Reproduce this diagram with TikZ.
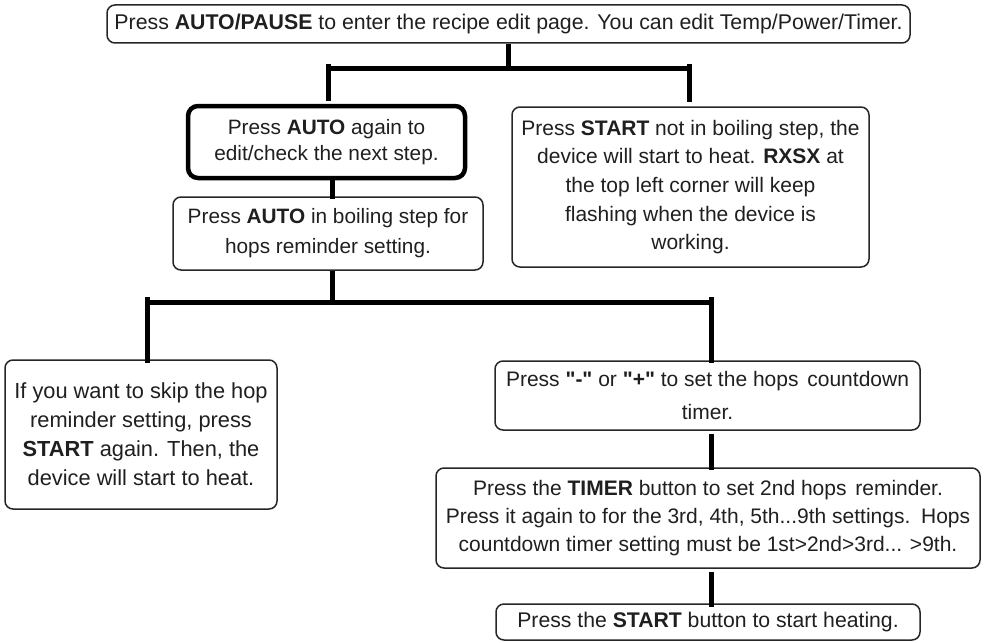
\documentclass[tikz,border=0pt]{standalone}
\usepackage{fontspec}
\setmainfont{Liberation Sans}[Ligatures=TeXOff]
\usetikzlibrary{calc}
\begin{document}
\begin{tikzpicture}[x=1pt,y=-1pt,
  box/.style={draw=black!85, line width=1.5pt, rounded corners=8pt, align=center, inner sep=0pt, text=black!88,
    font=\fontsize{21}{28.5}\selectfont},
  thickbox/.style={box, line width=4.5pt, rounded corners=10pt, draw=black},
  conn/.style={line width=5pt, draw=black}]
\useasboundingbox (0,0) rectangle (984,642);

\node[box, minimum width=803pt, minimum height=38pt, font=\fontsize{21.3}{28.5}\selectfont] (top) at (508.5,24)
  {Press \textbf{AUTO/PAUSE} to enter the recipe edit page. You can edit Temp/Power/Timer.};
\node[thickbox, minimum width=277pt, minimum height=72pt, font=\fontsize{20.8}{26.7}\selectfont] (auto1) at (326.5,142)
  {Press \textbf{AUTO} again to\\edit/check the next step.};
\node[box, minimum width=310pt, minimum height=73pt, font=\fontsize{20.8}{30}\selectfont] (auto2) at (328,233.5)
  {Press \textbf{AUTO} in boiling step for\\hops reminder setting.};
\node[box, minimum width=357pt, minimum height=160pt, font=\fontsize{21}{28.7}\selectfont] (startbox) at (690.5,187)
  {Press \textbf{START} not in boiling step, the\\device will start to heat. \textbf{RXSX} at\\the top left corner will keep\\flashing when the device is\\working.};
\node[box, minimum width=272pt, minimum height=149pt, font=\fontsize{21.8}{29}\selectfont] (skip) at (141,434.5)
  {If you want to skip the hop\\reminder setting, press\\\textbf{START} again. Then, the\\device will start to heat.};
\node[box, minimum width=425pt, minimum height=69pt, font=\fontsize{21}{33}\selectfont] (plus) at (707.5,395.5)
  {Press \textbf{"-"} or \textbf{"+"} to set the hops\hspace{3pt} countdown\\timer.};
\node[box, minimum width=544pt, minimum height=100pt, font=\fontsize{21}{28.3}\selectfont] (timer) at (708,518)
  {Press the \textbf{TIMER} button to set 2nd hops\hspace{3pt} reminder.\\Press it again to for the 3rd, 4th, 5th...9th settings.\hspace{3pt} Hops\\countdown timer setting must be 1st>2nd>3rd... >9th.};
\node[box, minimum width=424pt, minimum height=36pt, font=\fontsize{21.2}{28.5}\selectfont] (startbtn) at (708,622)
  {Press the \textbf{START} button to start heating.};

% upper tree
\coordinate (jL) at (328,68);
\coordinate (jR) at (689,68);
\draw[conn] (top.south) -- (top.south |- jL);
\draw[conn] (jL) -- (jR);
\draw[conn] ($(jL)+(0,-4)$) -- ($(jL |- auto1.north)+(0,-3)$);
\draw[conn] ($(jR)+(0,-4)$) -- ($(jR |- startbox.north)+(0,-4)$);

% auto1 -> auto2 -> lower tree
\coordinate (kM) at (332,302);
\coordinate (kL) at (147,302);
\coordinate (kR) at (711,302);
\draw[conn] (auto1.south -| kM) -- ($(auto2.north -| kM)+(0,3)$);
\draw[conn] (auto2.south -| kM) -- (kM);
\draw[conn] (kL) -- (kR);
\draw[conn] ($(kL)+(0,-5)$) -- ($(kL |- skip.north)+(0,4)$);
\draw[conn] ($(kR)+(0,-5)$) -- ($(kR |- plus.north)+(0,3)$);

% right column
\draw[conn] ($(plus.south -| kR)+(0,3)$) -- ($(timer.north -| kR)+(0,3)$);
\draw[conn] ($(timer.south -| kR)+(0,3)$) -- ($(startbtn.north -| kR)+(0,4)$);
\end{tikzpicture}
\end{document}
